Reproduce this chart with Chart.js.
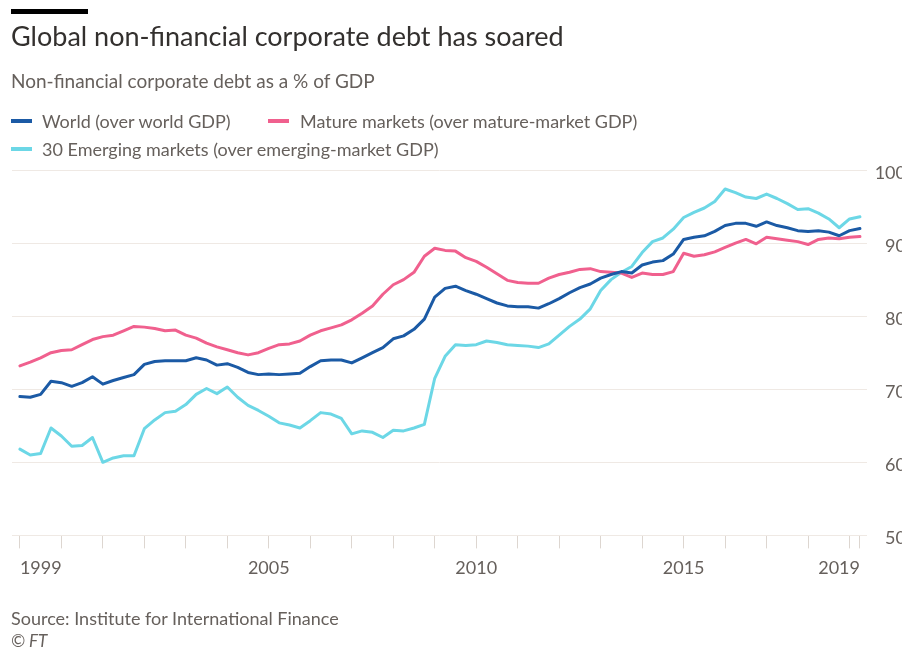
<!DOCTYPE html>
<html>
<head>
<meta charset="utf-8">
<title>Global non-financial corporate debt has soared</title>
<script src="https://cdn.jsdelivr.net/npm/chart.js@4.4.1/dist/chart.umd.min.js"></script>
<style>
    html, body {
        margin: 0;
        padding: 0;
        width: 902px;
        height: 650px;
        overflow: hidden;
        background: #fff;
    }
    body {
        position: relative;
        font-family: Lato, "Open Sans", sans-serif;
        color: #66605c;
    }
    .bar {
        position: absolute;
        left: 11px;
        top: 9px;
        width: 77px;
        height: 5px;
        background: #000;
    }
    .text {
        position: absolute;
        left: 11px;
        line-height: 1;
        white-space: nowrap;
    }
    .title { top: 22px; font-size: 27px; color: #33302e; }
    .subtitle { top: 71px; font-size: 19px; }
    .legend { font-size: 18px; }
    .swatch {
        position: absolute;
        width: 21px;
        height: 4px;
    }
    .source { top: 609px; font-size: 18px; }
    .credit { top: 632px; font-size: 17px; font-style: italic; }
    #chart {
        position: absolute;
        left: 0;
        top: 0;
    }
</style>
</head>
<body>
<canvas id="chart" width="906" height="650"></canvas>
<div class="bar"></div>
<div class="text title">Global non-financial corporate debt has soared</div>
<div class="text subtitle">Non-financial corporate debt as a % of GDP</div>

<div class="swatch" style="left:11px; top:119px; background:#1b5aa5;"></div>
<div class="text legend" style="left:42px; top:112px;">World (over world GDP)</div>
<div class="swatch" style="left:268px; top:119px; background:#f0608e;"></div>
<div class="text legend" style="left:300px; top:112px;">Mature markets (over mature-market GDP)</div>
<div class="swatch" style="left:11px; top:147px; background:#6cd7e6;"></div>
<div class="text legend" style="left:42px; top:140px;">30 Emerging markets (over emerging-market GDP)</div>

<div class="text source">Source: Institute for International Finance</div>
<div class="text credit">© FT</div>

<script>
    // quarterly, 1999 Q1 to 2019 Q2, % of GDP
    const startYear = 1999;

    const world = [
        69.0, 68.9, 69.3, 71.1, 70.9, 70.4, 70.9, 71.7, 70.7, 71.2,
        71.6, 72.0, 73.4, 73.8, 73.9, 73.9, 73.9, 74.3, 74.0, 73.3,
        73.5, 73.0, 72.3, 72.0, 72.1, 72.0, 72.1, 72.2, 73.1, 73.9,
        74.0, 74.0, 73.6, 74.3, 75.0, 75.7, 76.9, 77.3, 78.2, 79.6,
        82.6, 83.8, 84.1, 83.5, 83.0, 82.4, 81.8, 81.4, 81.3, 81.3,
        81.1, 81.7, 82.4, 83.2, 83.9, 84.4, 85.2, 85.7, 86.1, 85.9,
        87.0, 87.4, 87.6, 88.5, 90.5, 90.8, 91.0, 91.6, 92.4, 92.7,
        92.7, 92.3, 92.9, 92.4, 92.1, 91.7, 91.6, 91.7, 91.5, 91.0,
        91.7, 92.0
    ];

    const mature = [
        73.2, 73.7, 74.3, 75.0, 75.3, 75.4, 76.1, 76.8, 77.2, 77.4,
        78.0, 78.6, 78.5, 78.3, 78.0, 78.1, 77.4, 77.0, 76.3, 75.8,
        75.4, 75.0, 74.7, 75.0, 75.6, 76.1, 76.2, 76.6, 77.4, 78.0,
        78.4, 78.8, 79.5, 80.4, 81.4, 83.0, 84.3, 85.0, 86.0, 88.2,
        89.3, 89.0, 88.9, 88.0, 87.5, 86.7, 85.8, 84.9, 84.6, 84.5,
        84.5, 85.2, 85.7, 86.0, 86.4, 86.5, 86.1, 86.0, 85.9, 85.3,
        85.9, 85.7, 85.7, 86.1, 88.6, 88.2, 88.4, 88.8, 89.4, 90.0,
        90.5, 89.9, 90.8, 90.6, 90.4, 90.2, 89.8, 90.5, 90.7, 90.6,
        90.8, 90.9
    ];

    const emerging = [
        61.8, 61.0, 61.2, 64.7, 63.6, 62.2, 62.3, 63.4, 60.0, 60.6,
        60.9, 60.9, 64.6, 65.8, 66.8, 67.0, 67.9, 69.3, 70.1, 69.4,
        70.3, 68.9, 67.8, 67.1, 66.3, 65.4, 65.1, 64.7, 65.7, 66.8,
        66.6, 66.0, 63.9, 64.3, 64.1, 63.4, 64.4, 64.3, 64.7, 65.2,
        71.5, 74.5, 76.1, 76.0, 76.1, 76.6, 76.4, 76.1, 76.0, 75.9,
        75.7, 76.2, 77.4, 78.6, 79.6, 81.0, 83.5, 85.0, 86.0, 86.8,
        88.7, 90.2, 90.7, 91.9, 93.5, 94.2, 94.8, 95.7, 97.4, 96.9,
        96.3, 96.1, 96.7, 96.1, 95.4, 94.6, 94.7, 94.1, 93.3, 92.1,
        93.3, 93.6
    ];

    const labelledYears = [1999, 2005, 2010, 2015];
    const lastLabel = '2019';
    const yTicks = [50, 60, 70, 80, 90, 100];

    const quarters = world.map((_, i) => startYear + i / 4);
    const endX = quarters[quarters.length - 1];

    function toPoints (values) {
        return values.map((v, i) => ({ x: quarters[i], y: v }));
    }

    const ctx = document.getElementById('chart').getContext('2d');

    new Chart(ctx, {
        type: 'line',
        data: {
            datasets: [
                {
                    label: 'World (over world GDP)',
                    data: toPoints(world),
                    borderColor: '#1b5aa5',
                    borderWidth: 3
                },
                {
                    label: 'Mature markets (over mature-market GDP)',
                    data: toPoints(mature),
                    borderColor: '#f0608e',
                    borderWidth: 3
                },
                {
                    label: '30 Emerging markets (over emerging-market GDP)',
                    data: toPoints(emerging),
                    borderColor: '#6cd7e6',
                    borderWidth: 3
                }
            ]
        },
        options: {
            responsive: false,
            animation: false,
            elements: {
                point: { radius: 0 },
                line: { tension: 0, borderJoinStyle: 'round', borderCapStyle: 'round' }
            },
            layout: {
                padding: { left: 12, top: 170, right: 0, bottom: 62 }
            },
            plugins: {
                legend: { display: false },
                tooltip: { enabled: false }
            },
            scales: {
                x: {
                    type: 'linear',
                    min: 1998.81,
                    max: 2019.42,
                    afterBuildTicks: scale => {
                        const ticks = [];
                        for (let y = startYear; y <= 2019; y++) {
                            ticks.push({ value: y });
                        }
                        ticks.push({ value: endX });
                        scale.ticks = ticks;
                    },
                    grid: {
                        drawOnChartArea: false,
                        drawTicks: true,
                        tickLength: 13,
                        tickColor: '#ddd6d0',
                        tickWidth: 1
                    },
                    border: { display: false },
                    ticks: {
                        autoSkip: false,
                        maxRotation: 0,
                        align: 'inner',
                        padding: 9,
                        color: '#66605c',
                        font: { family: 'Lato', size: 18 },
                        callback: value => {
                            if (value === endX) return lastLabel;
                            return labelledYears.includes(value) ? String(value) : '';
                        }
                    }
                },
                y: {
                    position: 'right',
                    min: 50,
                    max: 100,
                    afterBuildTicks: scale => {
                        scale.ticks = yTicks.map(v => ({ value: v }));
                    },
                    afterFit: scale => {
                        scale.width = 39;
                    },
                    grid: {
                        color: '#efe9e4',
                        lineWidth: 1,
                        drawTicks: false
                    },
                    border: { display: false },
                    ticks: {
                        crossAlign: 'far',
                        padding: 8,
                        labelOffset: 3,
                        color: '#66605c',
                        font: { family: 'Lato', size: 18 }
                    }
                }
            }
        }
    });
</script>
</body>
</html>
